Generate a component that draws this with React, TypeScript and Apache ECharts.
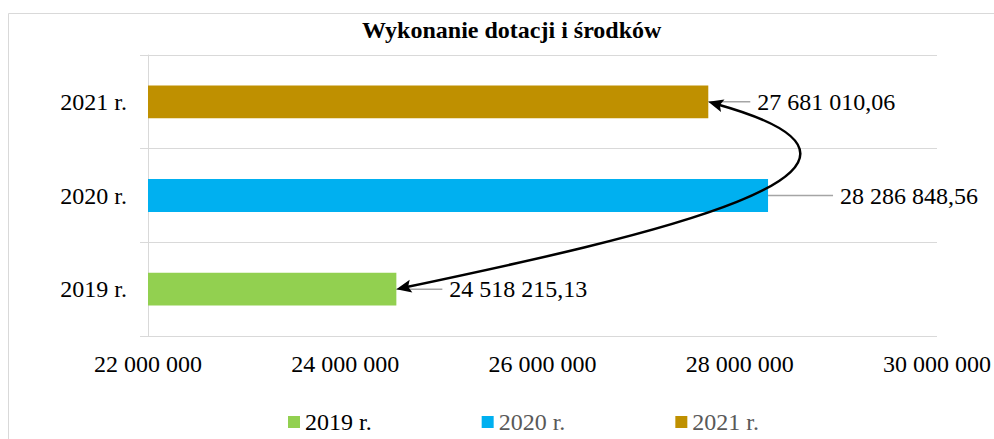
import React, { useEffect, useRef } from "react";
import * as echarts from "echarts";

const categories = ["2019 r.", "2020 r.", "2021 r."];
const seriesNames = ["2019 r.", "2020 r.", "2021 r."];
const values = [24518215.13, 28286848.56, 27681010.06];
const colors = ["#92D050", "#00B0F0", "#BF9000"];
const legendTextColors = ["#000000", "#595959", "#595959"];
const labelOffsets = [46, 65, 42];
const axisMin = 22000000;
const axisMax = 30000000;
const axisInterval = 2000000;
const titleText = "Wykonanie dotacji i środków";

const FONT = "Liberation Serif";
const FS = 24;

function groupThousands(intPart: string): string {
  return intPart.replace(/\B(?=(\d{3})+(?!\d))/g, " ");
}
function fmtValue(v: number): string {
  const [i, d] = v.toFixed(2).split(".");
  return groupThousands(i) + "," + d;
}
function fmtTick(v: number): string {
  return groupThousands(Math.round(v).toString());
}

export default function App() {
  const ref = useRef<HTMLDivElement>(null);
  useEffect(() => {
    document.body.style.margin = "0";
    if (!ref.current) return;
    const chart = echarts.init(ref.current, undefined, { renderer: "svg" });
    const series = seriesNames.map((name, si) => ({
      name,
      type: "bar",
      barWidth: "35%",
      barGap: "-100%",
      itemStyle: { color: colors[si] },
      data: categories.map((_, ci) => (ci === si ? values[si] : null)),
      label: {
        show: true,
        position: "right",
        distance: 0,
        padding: [0, 0, 0, 7],
        backgroundColor: "rgba(255,255,255,0)",
        color: "#000",
        fontFamily: FONT,
        fontSize: FS,
        formatter: (p: any) => fmtValue(p.value),
      },
      labelLayout: { dx: labelOffsets[si] },
      labelLine: { show: true, lineStyle: { color: "#a5a5a5", width: 1.5 } },
    }));
    chart.setOption({
      animation: false,
      backgroundColor: "#fff",
      textStyle: { fontFamily: FONT },
      title: {
        text: titleText,
        left: 362,
        top: 18,
        padding: 0,
        textStyle: { fontFamily: FONT, fontSize: FS, fontWeight: "bold", color: "#000" },
      },
      legend: {
        left: 283,
        top: 405,
        itemWidth: 12,
        itemHeight: 12,
        itemGap: 110,
        icon: "rect",
        textStyle: { fontFamily: FONT, fontSize: FS },
        data: seriesNames.map((n, i) => ({ name: n, textStyle: { color: legendTextColors[i], fontFamily: FONT, fontSize: FS } })),
      },
      grid: { left: 148, right: 57, top: 55, bottom: 103, containLabel: false },
      xAxis: {
        type: "value",
        min: axisMin,
        max: axisMax,
        interval: axisInterval,
        axisLine: { show: false },
        axisTick: { show: false },
        splitLine: { show: false },
        axisLabel: {
          margin: 16,
          color: "#000",
          fontFamily: FONT,
          fontSize: FS,
          formatter: (v: number) => fmtTick(v),
        },
      },
      yAxis: {
        type: "category",
        data: categories,
        axisLine: { show: true, lineStyle: { color: "#d9d9d9", width: 1 } },
        axisTick: { show: true, length: 8, lineStyle: { color: "#d9d9d9", width: 1 } },
        splitLine: { show: true, lineStyle: { color: "#d9d9d9", width: 1 } },
        axisLabel: { margin: 21, color: "#000", fontFamily: FONT, fontSize: FS },
      },
      series,
    });

    const p0 = chart.convertToPixel({ gridIndex: 0 }, [values[0], 0]) as number[];
    const p3 = chart.convertToPixel({ gridIndex: 0 }, [values[2], 2]) as number[];
    const c1 = [p0[0] + 242, p0[1] - 51];
    const c2 = [p3[0] + 245, p3[1] + 68];
    const head = (tip: number[], from: number[]) => {
      const dx = tip[0] - from[0];
      const dy = tip[1] - from[1];
      const len = Math.hypot(dx, dy);
      const ux = dx / len;
      const uy = dy / len;
      const L = 15;
      const W = 6.5;
      const bx = tip[0] - ux * L;
      const by = tip[1] - uy * L;
      return {
        type: "polygon",
        z: 100,
        shape: {
          points: [
            [tip[0], tip[1]],
            [bx - uy * W, by + ux * W],
            [tip[0] - ux * L * 0.8, tip[1] - uy * L * 0.8],
            [bx + uy * W, by - ux * W],
          ],
        },
        style: { fill: "#000" },
      };
    };
    const shorten = (tip: number[], from: number[], d: number) => {
      const dx = tip[0] - from[0];
      const dy = tip[1] - from[1];
      const len = Math.hypot(dx, dy);
      return [tip[0] - (dx / len) * d, tip[1] - (dy / len) * d];
    };
    const s0 = shorten(p0, c1, 8);
    const s3 = shorten(p3, c2, 8);
    chart.setOption({
      graphic: [
        {
          type: "rect",
          z: -10,
          shape: { x: 8.5, y: 13.5, width: 1200, height: 600 },
          style: { fill: "none", stroke: "#d9d9d9", lineWidth: 1 },
          silent: true,
        },
        {
          type: "bezierCurve",
          z: 100,
          shape: {
            x1: s0[0], y1: s0[1],
            cpx1: c1[0], cpy1: c1[1],
            cpx2: c2[0], cpy2: c2[1],
            x2: s3[0], y2: s3[1],
          },
          style: { stroke: "#000", lineWidth: 2.5, fill: "none" },
        },
        head(p0, c1),
        head(p3, c2),
      ],
    });
    return () => chart.dispose();
  }, []);
  return <div ref={ref} style={{ width: 994, height: 439 }} />;
}
